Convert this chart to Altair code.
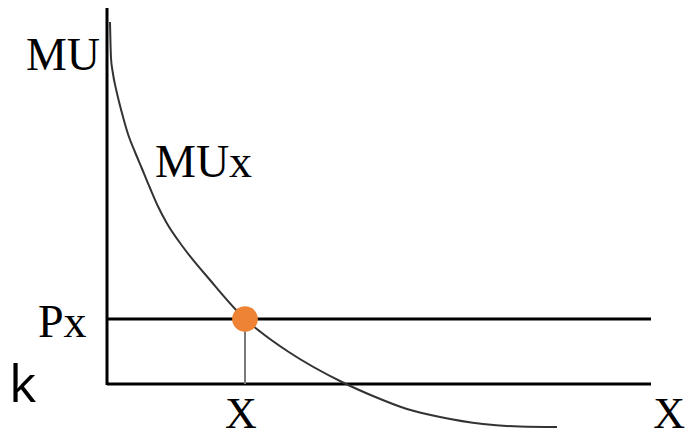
import altair as alt
import pandas as pd

# MUx curve: quantity of X vs marginal utility (chart units)
curve_q = [0.30, 0.40, 0.57, 0.97, 1.47, 2.13, 2.8, 3.47, 4.3, 5.13, 5.97, 7.6, 10.3,
           13.8, 15.3, 18.1, 23.6, 26.6, 30.0, 33.3, 37.6, 41.3, 45.0]
curve_mu = [36.2, 32.6, 31.2, 29.2, 27.2, 24.9, 23.2, 21.6, 19.6, 17.7, 16.1, 13.7, 10.4,
            6.5, 5.25, 3.25, 0.15, -1.2, -2.5, -3.3, -4.0, -4.25, -4.3]

# equilibrium quantity and price
eq_q = [13.8]
eq_px = [6.5]

# axis extents
axis_q_max = 54.4
axis_mu_max = 37.6

# labels
serif_labels = ["MU", "MUx", "Px", "X", "X"]
serif_q = [-0.7, 4.8, -6.9, 13.4, 57.8]
serif_mu = [31.4, 20.7, 4.7, -4.43, -4.43]
serif_size = [46, 46, 46, 44, 44]
serif_align = ["right", "left", "left", "center", "right"]
side_labels = ["k"]
side_q = [-9.8]
side_mu = [-1.8]

X_DOM = [-9.9, 57.9]
Y_DOM = [-5.4, 37.6]

xs = alt.Scale(domain=X_DOM, nice=False, zero=False)
ys = alt.Scale(domain=Y_DOM, nice=False, zero=False)

curve_df = pd.DataFrame({"q": curve_q, "mu": curve_mu})
eq_df = pd.DataFrame({"q": eq_q, "mu": eq_px, "zero": [0.0]})
hline_df = pd.DataFrame({"q": [0.0, 0.0], "q2": [axis_q_max, axis_q_max], "mu": [0.0, eq_px[0]]})
vline_df = pd.DataFrame({"q": [0.0], "mu": [-0.1], "mu2": [axis_mu_max]})
lab_df = pd.DataFrame({"label": serif_labels, "q": serif_q, "mu": serif_mu,
                       "al": serif_align, "fs": serif_size})
side_df = pd.DataFrame({"label": side_labels, "q": side_q, "mu": side_mu})

X = lambda: alt.X("q:Q", scale=xs, axis=None)
Y = lambda: alt.Y("mu:Q", scale=ys, axis=None)

hlines = alt.Chart(hline_df).mark_rule(color="black", strokeWidth=3).encode(
    x=X(), x2="q2:Q", y=Y())
vline = alt.Chart(vline_df).mark_rule(color="black", strokeWidth=3).encode(
    x=X(), y=Y(), y2="mu2:Q")
drop = alt.Chart(eq_df).mark_rule(color="#7a7a7a", strokeWidth=2).encode(
    x=X(), y=Y(), y2="zero:Q")
curve = alt.Chart(curve_df).mark_line(color="#333333", strokeWidth=2, interpolate="monotone").encode(
    x=X(), y=Y())
dot = alt.Chart(eq_df).mark_circle(color="#EE8336", opacity=1, size=660).encode(
    x=X(), y=Y())

text_layers = []
for al in ["right", "left", "center"]:
    text_layers.append(
        alt.Chart(lab_df[lab_df["al"] == al]).mark_text(
            align=al, baseline="alphabetic", font="Liberation Serif", color="black"
        ).encode(x=X(), y=Y(), text="label:N",
                 size=alt.Size("fs:Q", scale=None, legend=None))
    )
side = alt.Chart(side_df).mark_text(
    align="left", baseline="alphabetic", font="Open Sans", fontSize=52, color="black"
).encode(x=X(), y=Y(), text="label:N")

chart = alt.layer(hlines, vline, curve, drop, dot, *text_layers, side).properties(
    width=678, height=430, padding=0, autosize=alt.AutoSizeParams(type="none")
).configure_view(stroke=None)

chart.save("out.html", embed_options={"renderer": "svg", "actions": False})
